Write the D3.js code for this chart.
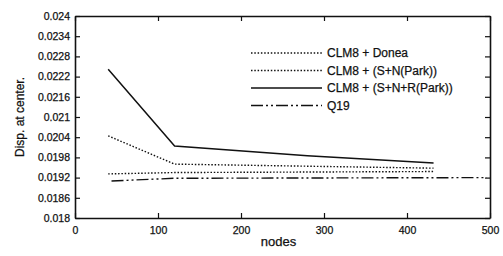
<!DOCTYPE html>
<html>
<head>
<meta charset="utf-8">
<script src="https://cdn.jsdelivr.net/npm/d3@7"></script>
<style>
  body { margin: 0; background: #fff; }
  svg { display: block; font-family: Arial, "Liberation Sans", sans-serif; }
  svg text { stroke: #111; stroke-width: 0.25px; }
</style>
</head>
<body>
<svg id="chart" width="503" height="256"></svg>
<script>
// data
var yTicks = [0.018, 0.0186, 0.0192, 0.0198, 0.0204, 0.021, 0.0216, 0.0222, 0.0228, 0.0234, 0.024];
var yTickLabels = ["0.018", "0.0186", "0.0192", "0.0198", "0.0204", "0.021", "0.0216", "0.0222", "0.0228", "0.0234", "0.024"];
var xTicks = [0, 100, 200, 300, 400, 500];

var doneaNodes = [40, 120, 432];
var doneaDisp = [0.01931, 0.01935, 0.01938];

var snNodes = [40, 120, 432];
var snDisp = [0.02044, 0.01960, 0.01948];

var snrNodes = [40, 120, 280, 432];
var snrDisp = [0.02242, 0.02014, 0.01985, 0.01963];

var q19Nodes = [44, 120, 496];
var q19Disp = [0.01910, 0.01918, 0.01920];

var seriesNames = ["CLM8 + Donea", "CLM8 + (S+N(Park))", "CLM8 + (S+N+R(Park))", "Q19"];

var svg = d3.select("#chart");
var margin = {left: 75, right: 13, top: 16, bottom: 38};
var width = 503 - margin.left - margin.right;
var height = 256 - margin.top - margin.bottom;

var x = d3.scaleLinear().domain([0, 500]).range([0, width]);
var y = d3.scaleLinear().domain([0.018, 0.024]).range([height, 0]);

var g = svg.append("g").attr("transform", "translate(" + margin.left + "," + margin.top + ")");

var series = [
    {name: seriesNames[0], xs: doneaNodes, ys: doneaDisp, dash: "1.5,1.8", w: 1.4},
    {name: seriesNames[1], xs: snNodes, ys: snDisp, dash: "1.5,1.8", w: 1.4},
    {name: seriesNames[2], xs: snrNodes, ys: snrDisp, dash: null, w: 1.5},
    {name: seriesNames[3], xs: q19Nodes, ys: q19Disp, dash: "12,3,2,3,2,3", w: 1.4}
];

var line = d3.line()
    .x(function(d) { return x(d[0]); })
    .y(function(d) { return y(d[1]); });

series.forEach(function(s) {
    var pts = s.xs.map(function(v, i) { return [v, s.ys[i]]; });
    g.append("path")
        .attr("d", line(pts))
        .attr("fill", "none")
        .attr("stroke", "#111")
        .attr("stroke-width", s.w)
        .attr("stroke-dasharray", s.dash);
});

// axes, ticks pointing inward on all four sides
var fmt = function(d) { return yTickLabels[yTicks.indexOf(d)]; };

var axL = g.append("g")
    .call(d3.axisLeft(y).tickValues(yTicks).tickFormat(fmt).tickSizeInner(-5).tickSizeOuter(0).tickPadding(5));
var axR = g.append("g").attr("transform", "translate(" + width + ",0)")
    .call(d3.axisRight(y).tickValues(yTicks).tickFormat("").tickSizeInner(-5).tickSizeOuter(0));
var axB = g.append("g").attr("transform", "translate(0," + height + ")")
    .call(d3.axisBottom(x).tickValues(xTicks).tickFormat(d3.format("d")).tickSizeInner(-5).tickSizeOuter(0).tickPadding(9));
var axT = g.append("g")
    .call(d3.axisTop(x).tickValues(xTicks).tickFormat("").tickSizeInner(-5).tickSizeOuter(0));

[axL, axR, axB, axT].forEach(function(a) {
    a.select(".domain").attr("stroke", "#111").attr("stroke-width", 1.6);
    a.selectAll(".tick line").attr("stroke", "#111").attr("stroke-width", 1.2);
    a.selectAll("text").attr("fill", "#111").style("font-size", "10.5px").style("font-family", "Arial, 'Liberation Sans', sans-serif");
});

// axis titles
svg.append("text")
    .attr("transform", "translate(24," + (margin.top + height / 2) + ") rotate(-90)")
    .attr("text-anchor", "middle")
    .style("font-size", "12px")
    .attr("fill", "#111")
    .text("Disp. at center.");

svg.append("text")
    .attr("x", margin.left + width / 2 - 4)
    .attr("y", 246)
    .attr("text-anchor", "middle")
    .style("font-size", "13px")
    .attr("fill", "#111")
    .text("nodes");

// legend
var legend = svg.append("g").attr("transform", "translate(251,53)");
series.forEach(function(s, i) {
    var row = legend.append("g").attr("transform", "translate(0," + (i * 17.5) + ")");
    row.append("line")
        .attr("x1", 0).attr("x2", 71)
        .attr("stroke", "#111")
        .attr("stroke-width", s.w)
        .attr("stroke-dasharray", s.dash);
    row.append("text")
        .attr("x", 76)
        .attr("dy", "0.35em")
        .style("font-size", "12px")
        .attr("fill", "#111")
        .text(s.name);
});
</script>
</body>
</html>
